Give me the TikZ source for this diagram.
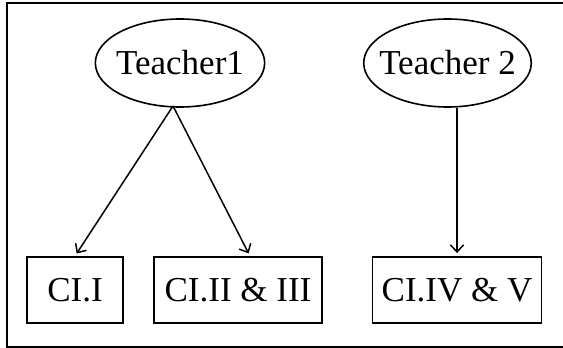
\documentclass[tikz,border=0pt]{standalone}
\usepackage{fontspec}
\setmainfont{Liberation Serif}
\usetikzlibrary{shapes.geometric,arrows.meta}

\tikzset{
  teacher/.style={draw, ellipse, line width=1.6pt, minimum width=166pt, minimum height=88pt, inner ysep=0pt, font=\fontsize{35}{38}\selectfont},
  classbox/.style={draw, rectangle, line width=1.9pt, minimum height=66pt, inner sep=0pt, font=\fontsize{35}{38}\selectfont},
  link/.style={line width=1.5pt, -{Straight Barb[length=7pt,width=13pt,line width=1.5pt]}, shorten >=3pt}
}

\begin{document}
\begin{tikzpicture}[x=1pt, y=-1pt]

\useasboundingbox ( 0, 0 ) rectangle ( 563, 348 );

%% Frame
\draw [line width=1.8pt] ( 7, 3 ) rectangle ( 568, 347 );

%% Teachers
\node (t1) at ( 180, 63 ) [teacher, inner xsep=-4pt] {Teacher1};
\node (t2) at ( 447.5, 63 ) [teacher, inner xsep=-9pt] {Teacher 2};

%% Classes
\node (c1) at ( 75, 290 ) [classbox, minimum width=96pt] {CI.I};
\node (c2) at ( 238, 290 ) [classbox, minimum width=168pt] {CI.II \& III};
\node (c3) at ( 457, 290 ) [classbox, minimum width=169pt] {CI.IV \& V};

%% Links
\coordinate (t1foot) at ( 173, 106 );
\draw [link] (t1foot) -- (c1.north);
\draw [link] (t1foot) -- ([xshift=12pt]c2.north);
\draw [link] (c3.north |- t2.south) -- (c3.north);

\end{tikzpicture}
\end{document}
